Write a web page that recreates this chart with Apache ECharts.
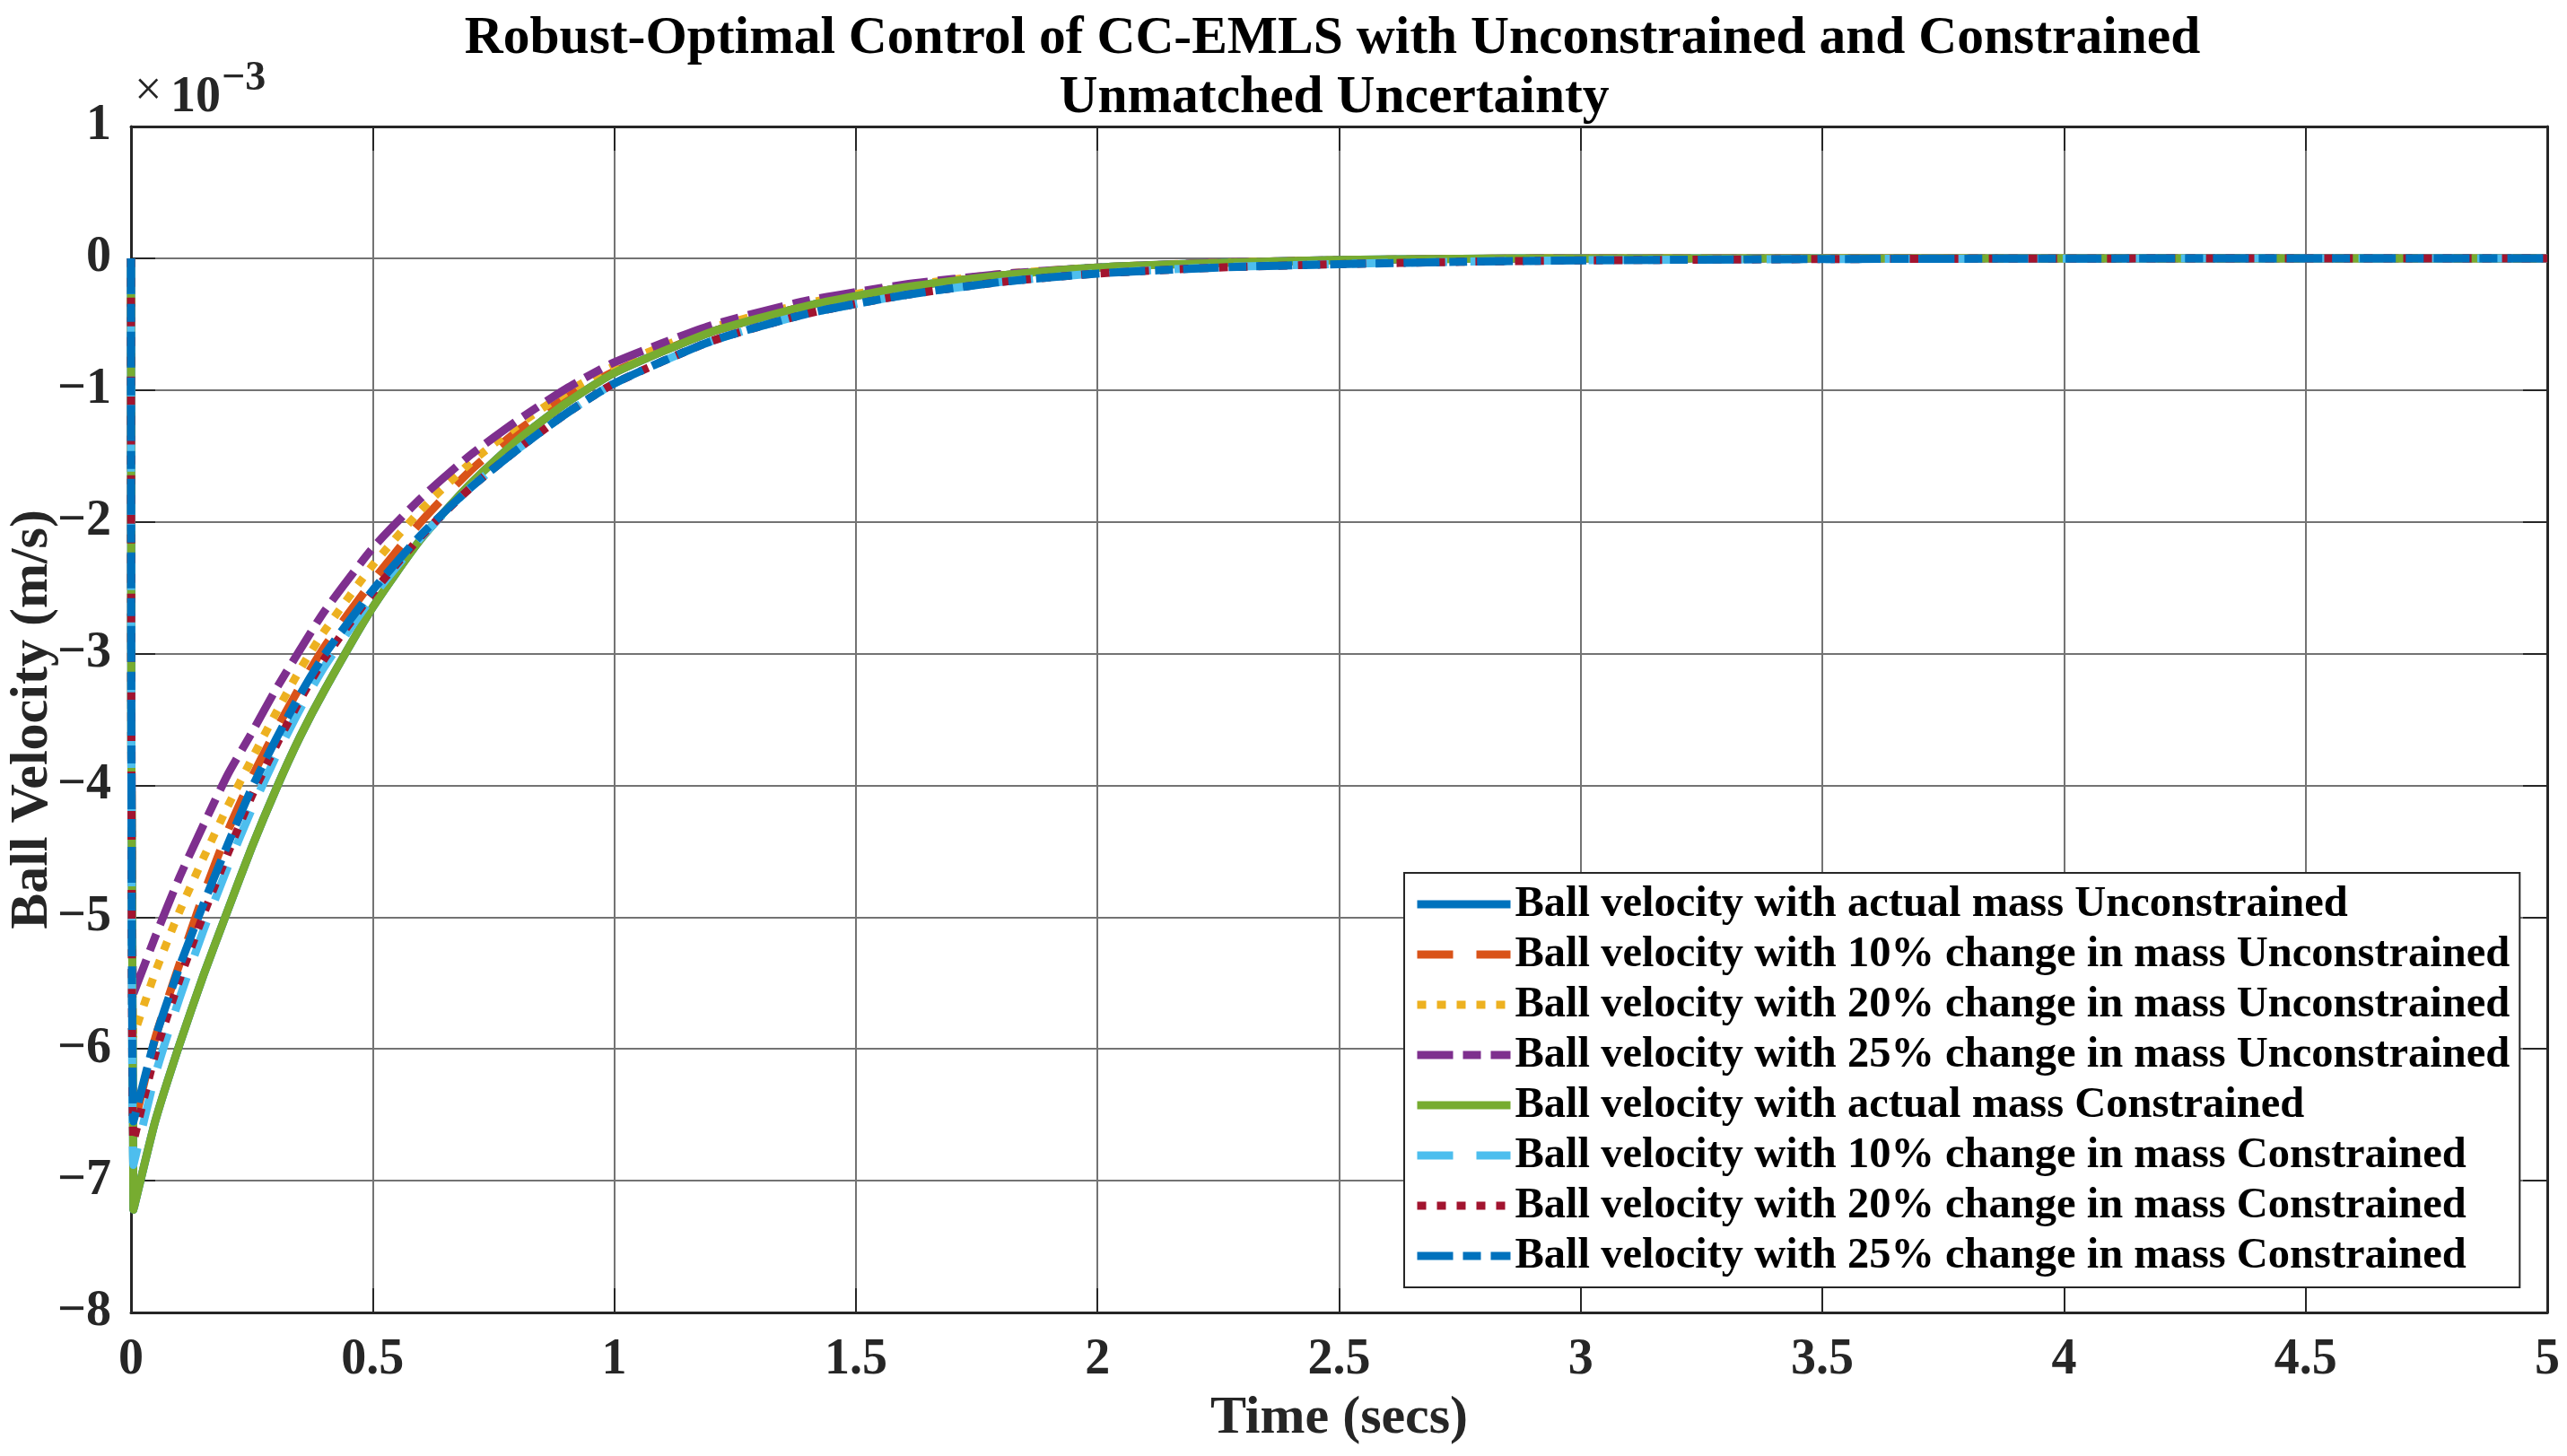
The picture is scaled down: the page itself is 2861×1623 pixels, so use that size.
<!DOCTYPE html>
<html>
<head>
<meta charset="utf-8">
<script src="https://cdn.jsdelivr.net/npm/echarts@6/dist/echarts.min.js"></script>
<style>
html,body{margin:0;padding:0;background:#fff;}
#chart{width:2861px;height:1623px;}
</style>
</head>
<body>
<div id="chart"></div>
<script>
// Time samples (s)
const timeSecs = [0, 0.005, 0.05, 0.1, 0.15, 0.2, 0.25, 0.3, 0.35, 0.4, 0.5, 0.6, 0.7, 0.8, 0.9, 1.0, 1.2, 1.4, 1.6, 1.8, 2.0, 2.25, 2.5, 2.75, 3.0, 3.5, 4.0, 4.5, 5.0];

// Ball velocity, units of 1e-3 m/s
const velActualUnc = [0, -7.22, -6.55, -5.97, -5.44, -4.95, -4.47, -4.03, -3.63, -3.28, -2.65, -2.13, -1.72, -1.38, -1.1, -0.87, -0.56, -0.36, -0.22, -0.13, -0.07, -0.035, -0.012, -0.004, 0, 0, 0, 0, 0];
const vel10Unc = [0, -6.6, -5.92, -5.36, -4.83, -4.35, -3.94, -3.58, -3.25, -2.95, -2.45, -2.0, -1.62, -1.31, -1.06, -0.86, -0.56, -0.36, -0.22, -0.13, -0.075, -0.035, -0.015, -0.005, 0, 0, 0, 0, 0];
const vel20Unc = [0, -5.9, -5.42, -4.96, -4.55, -4.16, -3.8, -3.45, -3.12, -2.83, -2.33, -1.91, -1.56, -1.27, -1.02, -0.82, -0.53, -0.34, -0.21, -0.12, -0.07, -0.033, -0.014, -0.005, 0, 0, 0, 0, 0];
const vel25Unc = [0, -5.58, -5.15, -4.7, -4.3, -3.92, -3.6, -3.27, -2.97, -2.68, -2.2, -1.82, -1.5, -1.23, -0.99, -0.79, -0.51, -0.32, -0.2, -0.12, -0.07, -0.033, -0.014, -0.005, 0, 0, 0, 0, 0];
const velActualCon = [0, -7.22, -6.55, -5.97, -5.44, -4.95, -4.47, -4.03, -3.63, -3.28, -2.65, -2.13, -1.72, -1.38, -1.1, -0.87, -0.56, -0.36, -0.22, -0.13, -0.07, -0.035, -0.012, -0.004, 0, 0, 0, 0, 0];
const vel10Con = [0, -6.88, -6.2, -5.62, -5.1, -4.62, -4.18, -3.78, -3.42, -3.1, -2.57, -2.12, -1.75, -1.45, -1.18, -0.95, -0.63, -0.42, -0.28, -0.18, -0.114, -0.068, -0.043, -0.026, -0.015, -0.006, -0.002, -0.001, 0];
const vel20Con = [0, -6.7, -6.04, -5.48, -4.98, -4.52, -4.08, -3.7, -3.35, -3.04, -2.54, -2.11, -1.75, -1.45, -1.18, -0.95, -0.63, -0.42, -0.28, -0.18, -0.116, -0.07, -0.045, -0.027, -0.016, -0.006, -0.002, -0.001, 0];
const vel25Con = [0, -6.55, -5.92, -5.38, -4.9, -4.45, -4.02, -3.65, -3.31, -3.01, -2.52, -2.1, -1.75, -1.45, -1.18, -0.95, -0.63, -0.42, -0.28, -0.18, -0.116, -0.07, -0.045, -0.027, -0.016, -0.006, -0.002, -0.001, 0];

const seriesNames = [
  'Ball velocity with actual mass Unconstrained',
  'Ball velocity with 10% change in mass Unconstrained',
  'Ball velocity with 20% change in mass Unconstrained',
  'Ball velocity with 25% change in mass Unconstrained',
  'Ball velocity with actual mass Constrained',
  'Ball velocity with 10% change in mass Constrained',
  'Ball velocity with 20% change in mass Constrained',
  'Ball velocity with 25% change in mass Constrained'
];
const seriesValues = [velActualUnc, vel10Unc, vel20Unc, vel25Unc, velActualCon, vel10Con, vel20Con, vel25Con];

const xTicks = {min: 0, max: 5, interval: 0.5};
const yTicks = {min: -8, max: 1, interval: 1};

const titleLines = ['Robust-Optimal Control of CC-EMLS with Unconstrained and Constrained', 'Unmatched Uncertainty'];

// styles
const colors = ['#0072BD', '#D95319', '#EDB120', '#7E2F8E', '#77AC30', '#4DBEEE', '#A2142F', '#0072BD'];
const DASH = [40, 26], DOT = [10, 12], DASHDOT = [40, 11, 20, 11];
const dashes = ['solid', DASH, DOT, DASHDOT, 'solid', DASH, DOT, DASHDOT];
const FONT = '"Liberation Serif", "Times New Roman", serif';
const AX = '#262626';

const series = seriesNames.map((n, i) => ({
  name: n,
  type: 'line',
  data: timeSecs.map((t, k) => [t, seriesValues[i][k]]),
  showSymbol: false,
  symbol: 'none',
  smooth: 0.2,
  clip: false,
  lineStyle: {color: colors[i], width: 9, type: dashes[i], cap: 'butt', join: 'round'},
  itemStyle: {color: colors[i]}
}));

const minusFmt = v => (v < 0 ? '\u2212' + Math.abs(v) : String(v));

const baseAxis = {
  axisLine: {show: true, onZero: false, lineStyle: {color: AX, width: 3}},
  axisTick: {show: true, inside: true, length: 27, lineStyle: {color: AX, width: 2}},
  splitLine: {show: false}
};

const chart = echarts.init(document.getElementById('chart'), null, {renderer: 'canvas'});
chart.setOption({
  animation: false,
  backgroundColor: '#ffffff',
  grid: {left: 146, right: 22, top: 141, bottom: 160, containLabel: false, outerBoundsMode: 'none',
         show: true, borderColor: AX, borderWidth: 2, backgroundColor: '#fff'},
  xAxis: [
    Object.assign({}, baseAxis, {
      type: 'value', position: 'bottom', min: xTicks.min, max: xTicks.max, interval: xTicks.interval,
      name: 'Time (secs)', nameLocation: 'middle', nameGap: 88,
      nameTextStyle: {fontFamily: FONT, fontWeight: 'bold', fontSize: 60, color: AX},
      axisLabel: {fontFamily: FONT, fontWeight: 'bold', fontSize: 56, lineHeight: 56, color: AX, margin: 26, formatter: minusFmt},
      splitLine: {show: true, lineStyle: {color: '#737373', width: 2}}
    }),
    Object.assign({}, baseAxis, {
      type: 'value', position: 'top', min: xTicks.min, max: xTicks.max, interval: xTicks.interval,
      axisLabel: {show: false}
    })
  ],
  yAxis: [
    Object.assign({}, baseAxis, {
      type: 'value', position: 'left', min: yTicks.min, max: yTicks.max, interval: yTicks.interval,
      name: 'Ball Velocity (m/s)', nameLocation: 'middle', nameGap: 80, nameMoveOverlap: false,
      nameTextStyle: {fontFamily: FONT, fontWeight: 'bold', fontSize: 60, color: AX},
      axisLabel: {fontFamily: FONT, fontWeight: 'bold', fontSize: 56, color: AX, margin: 22, formatter: minusFmt},
      splitLine: {show: true, lineStyle: {color: '#737373', width: 2}}
    }),
    Object.assign({}, baseAxis, {
      type: 'value', position: 'right', min: yTicks.min, max: yTicks.max, interval: yTicks.interval,
      axisLabel: {show: false}
    })
  ],
  legend: {
    show: true,
    data: seriesNames,
    orient: 'vertical',
    left: 1565, top: 973,
    padding: [7, 11, 7, 10],
    itemWidth: 104, itemHeight: 12, itemGap: 0,
    backgroundColor: '#ffffff',
    borderColor: AX, borderWidth: 2,
    itemStyle: {color: 'rgba(0,0,0,0)', borderWidth: 0, opacity: 0},
    lineStyle: {width: 9, type: 'inherit', color: 'inherit', cap: 'butt'},
    textStyle: {fontFamily: FONT, fontWeight: 'bold', fontSize: 48.5, lineHeight: 56, color: '#000'}
  },
  graphic: [
    {type: 'text', silent: true,
     style: {text: titleLines[0], x: 1485, y: 44, textAlign: 'center', textVerticalAlign: 'middle', font: 'bold 59.5px ' + FONT, fill: '#000'}},
    {type: 'text', silent: true,
     style: {text: titleLines[1], x: 1487, y: 110, textAlign: 'center', textVerticalAlign: 'middle', font: 'bold 59.5px ' + FONT, fill: '#000'}},
    {type: 'text', silent: true,
     style: {text: '\u00D7', x: 150, y: 130, textAlign: 'left', textVerticalAlign: 'bottom', font: '54px ' + FONT, fill: AX}},
    {type: 'text', silent: true,
     style: {text: '10', x: 190, y: 138, textAlign: 'left', textVerticalAlign: 'bottom', font: 'bold 56px ' + FONT, fill: AX}},
    {type: 'text', silent: true,
     style: {text: '\u22123', x: 247, y: 111, textAlign: 'left', textVerticalAlign: 'bottom', font: 'bold 46px ' + FONT, fill: AX}}
  ],
  series: series
});
</script>
</body>
</html>
